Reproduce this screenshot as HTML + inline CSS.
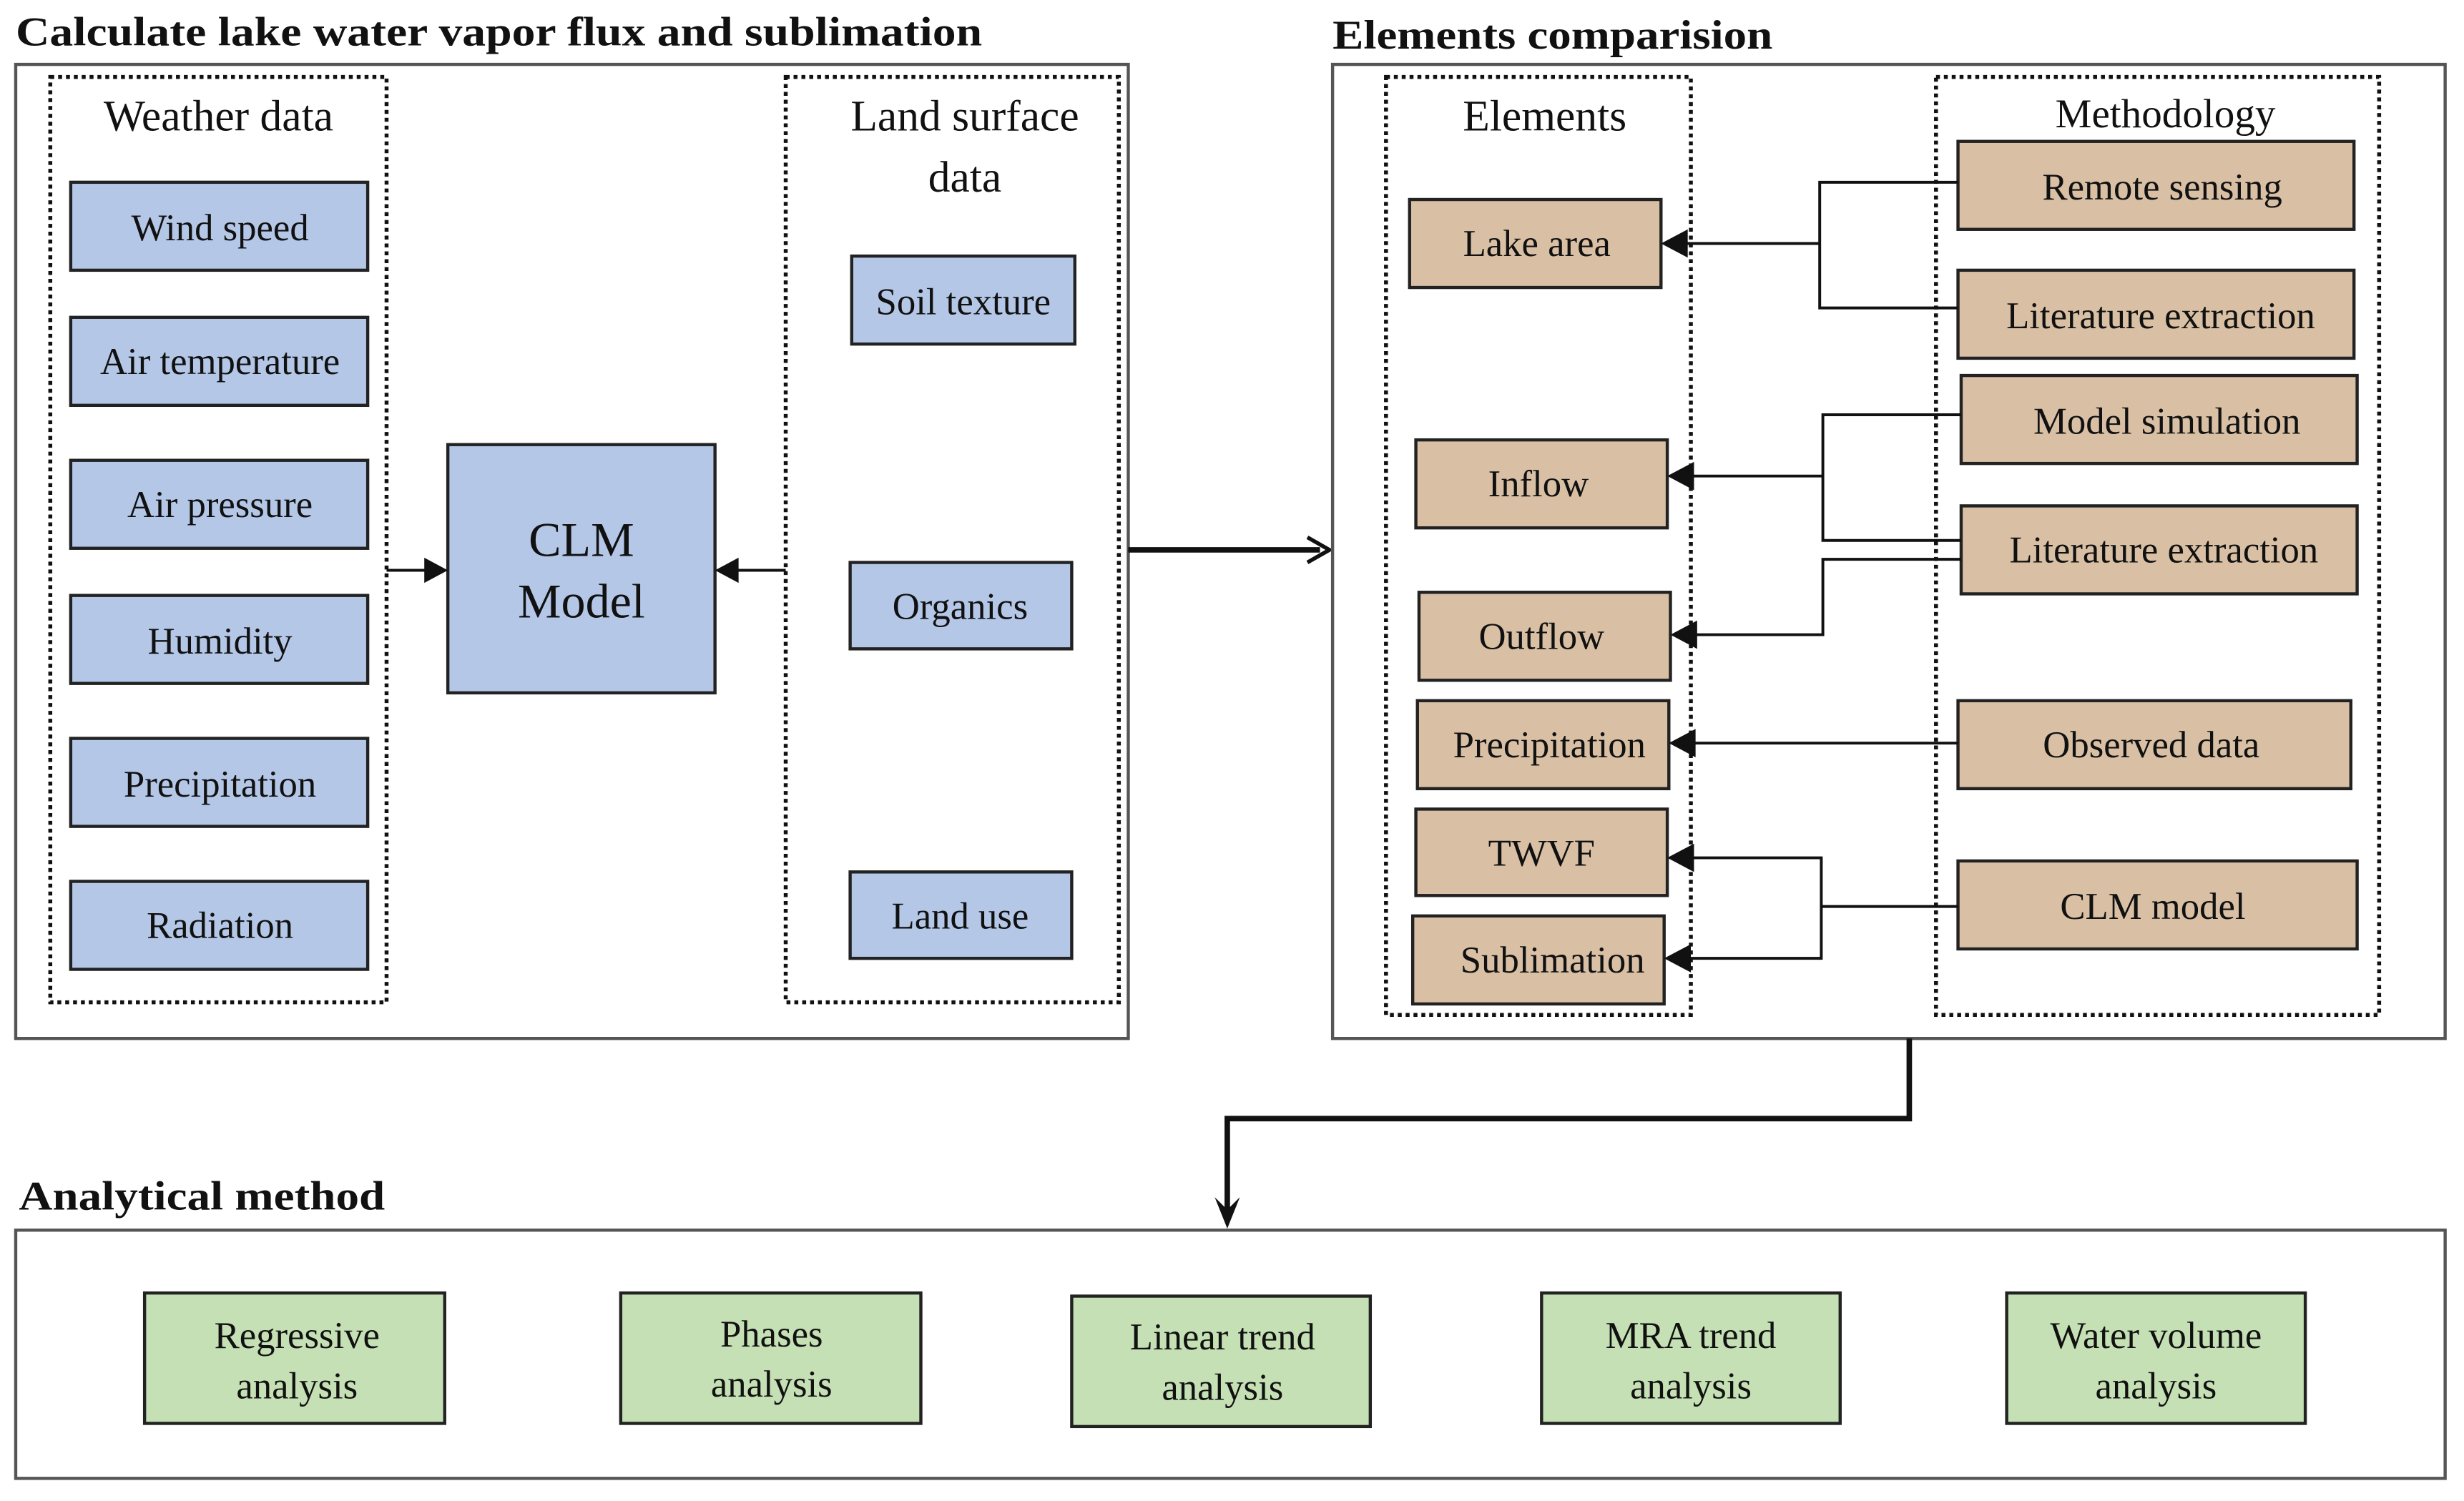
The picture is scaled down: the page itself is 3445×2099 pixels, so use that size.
<!DOCTYPE html>
<html><head><meta charset="utf-8"><style>
html,body{margin:0;padding:0;background:#fff;}
svg{display:block;}
svg, text{font-family:"Liberation Serif","Times New Roman",Times,serif;}
text{fill:#111;}
.t{font-size:24px;text-anchor:middle;}
.h{font-size:28px;text-anchor:middle;}
.b{font-weight:bold;font-size:26px;}
.blue{fill:#b4c7e7;stroke:#222;stroke-width:2;}
.tan{fill:#d9c0a5;stroke:#222;stroke-width:2;}
.grn{fill:#c5e0b4;stroke:#222;stroke-width:2;}
.out{fill:none;stroke:#555;stroke-width:2;}
.dot{fill:none;stroke:#111;stroke-width:2.5;stroke-dasharray:2.5 2.5;}
.ln{fill:none;stroke:#111;stroke-width:1.8;}
</style></head><body>
<svg width="3445" height="2099" viewBox="0 0 1568 955.4" preserveAspectRatio="none" xmlns="http://www.w3.org/2000/svg" font-family="Liberation Serif, Times New Roman, serif">
<text class="b" x="10" y="29" textLength="615" lengthAdjust="spacingAndGlyphs">Calculate lake water vapor flux and sublimation</text>
<rect class="out" x="10" y="41" width="708" height="620"/>
<rect class="dot" x="32" y="49" width="214" height="589"/>
<text class="h" x="139" y="83">Weather data</text>
<rect class="blue" x="45" y="116" width="189" height="56"/><text class="t" x="140" y="153">Wind speed</text>
<rect class="blue" x="45" y="202" width="189" height="56"/><text class="t" x="140" y="238">Air temperature</text>
<rect class="blue" x="45" y="293" width="189" height="56"/><text class="t" x="140" y="329">Air pressure</text>
<rect class="blue" x="45" y="379" width="189" height="56"/><text class="t" x="140" y="416">Humidity</text>
<rect class="blue" x="45" y="470" width="189" height="56"/><text class="t" x="140" y="507">Precipitation</text>
<rect class="blue" x="45" y="561" width="189" height="56"/><text class="t" x="140" y="597">Radiation</text>
<rect class="blue" x="285" y="283" width="170" height="158"/>
<text x="370" y="354" style="font-size:31px;text-anchor:middle">CLM</text>
<text x="370" y="393" style="font-size:31px;text-anchor:middle">Model</text>
<line class="ln" x1="246" y1="363" x2="272" y2="363"/><polygon points="285,363 270,355 270,371" fill="#111"/>
<line class="ln" x1="500" y1="363" x2="468" y2="363"/><polygon points="455,363 470,355 470,371" fill="#111"/>
<rect class="dot" x="500" y="49" width="212" height="589"/>
<text class="h" x="614" y="83">Land surface</text>
<text class="h" x="614" y="122">data</text>
<rect class="blue" x="542" y="163" width="142" height="56"/><text class="t" x="613" y="200">Soil texture</text>
<rect class="blue" x="541" y="358" width="141" height="55"/><text class="t" x="611" y="394">Organics</text>
<rect class="blue" x="541" y="555" width="141" height="55"/><text class="t" x="611" y="591">Land use</text>
<line x1="718" y1="350" x2="840" y2="350" stroke="#111" stroke-width="3.5"/>
<polyline points="832,342 846,350 832,358" fill="none" stroke="#111" stroke-width="2.5"/>

<text class="b" x="848" y="31" textLength="280" lengthAdjust="spacingAndGlyphs">Elements comparision</text>
<rect class="out" x="848" y="41" width="708" height="620"/>
<rect class="dot" x="882" y="49" width="194" height="597"/>
<text class="h" x="983" y="83">Elements</text>
<rect class="dot" x="1232" y="49" width="282" height="597"/>
<text x="1378" y="81" style="font-size:26px;text-anchor:middle">Methodology</text>

<rect class="tan" x="897" y="127" width="160" height="56"/><text class="t" x="978" y="163">Lake area</text>
<rect class="tan" x="901" y="280" width="160" height="56"/><text class="t" x="979" y="316">Inflow</text>
<rect class="tan" x="903" y="377" width="160" height="56"/><text class="t" x="981" y="413">Outflow</text>
<rect class="tan" x="902" y="446" width="160" height="56"/><text class="t" x="986" y="482">Precipitation</text>
<rect class="tan" x="901" y="515" width="160" height="55"/><text class="t" x="981" y="551">TWVF</text>
<rect class="tan" x="899" y="583" width="160" height="56"/><text class="t" x="988" y="619">Sublimation</text>

<rect class="tan" x="1246" y="90" width="252" height="56"/><text class="t" x="1376" y="127">Remote sensing</text>
<rect class="tan" x="1246" y="172" width="252" height="56"/><text class="t" x="1375" y="209">Literature extraction</text>
<rect class="tan" x="1248" y="239" width="252" height="56"/><text class="t" x="1379" y="276">Model simulation</text>
<rect class="tan" x="1248" y="322" width="252" height="56"/><text class="t" x="1377" y="358">Literature extraction</text>
<rect class="tan" x="1246" y="446" width="250" height="56"/><text class="t" x="1369" y="482">Observed data</text>
<rect class="tan" x="1246" y="548" width="254" height="56"/><text class="t" x="1370" y="585">CLM model</text>

<polyline class="ln" points="1246,116 1158,116 1158,196 1246,196"/>
<line class="ln" x1="1158" y1="155" x2="1072" y2="155"/><polygon points="1057,155 1074,146 1074,164" fill="#111"/>
<polyline class="ln" points="1248,264 1160,264 1160,344 1248,344"/>
<line class="ln" x1="1160" y1="303" x2="1076" y2="303"/><polygon points="1061,303 1078,294 1078,312" fill="#111"/>
<polyline class="ln" points="1248,356 1160,356 1160,404 1078,404"/><polygon points="1063,404 1080,395 1080,413" fill="#111"/>
<line class="ln" x1="1246" y1="473" x2="1077" y2="473"/><polygon points="1062,473 1079,464 1079,482" fill="#111"/>
<line class="ln" x1="1246" y1="577" x2="1159" y2="577"/>
<polyline class="ln" points="1076,546 1159,546 1159,610 1074,610"/>
<polygon points="1061,546 1078,537 1078,555" fill="#111"/>
<polygon points="1059,610 1076,601 1076,619" fill="#111"/>

<polyline points="1215,661 1215,712 781,712 781,776" fill="none" stroke="#111" stroke-width="3.5"/>
<polygon points="781,782 773,762 781,770 789,762" fill="#111"/>

<text class="b" x="12" y="770" textLength="233" lengthAdjust="spacingAndGlyphs">Analytical method</text>
<rect class="out" x="10" y="783" width="1546" height="158"/>
<rect class="grn" x="92" y="823" width="191" height="83"/><text class="t" x="189" y="858">Regressive</text><text class="t" x="189" y="890">analysis</text>
<rect class="grn" x="395" y="823" width="191" height="83"/><text class="t" x="491" y="857">Phases</text><text class="t" x="491" y="889">analysis</text>
<rect class="grn" x="682" y="825" width="190" height="83"/><text class="t" x="778" y="859">Linear trend</text><text class="t" x="778" y="891">analysis</text>
<rect class="grn" x="981" y="823" width="190" height="83"/><text class="t" x="1076" y="858">MRA trend</text><text class="t" x="1076" y="890">analysis</text>
<rect class="grn" x="1277" y="823" width="190" height="83"/><text class="t" x="1372" y="858">Water volume</text><text class="t" x="1372" y="890">analysis</text>
</svg>
</body></html>
